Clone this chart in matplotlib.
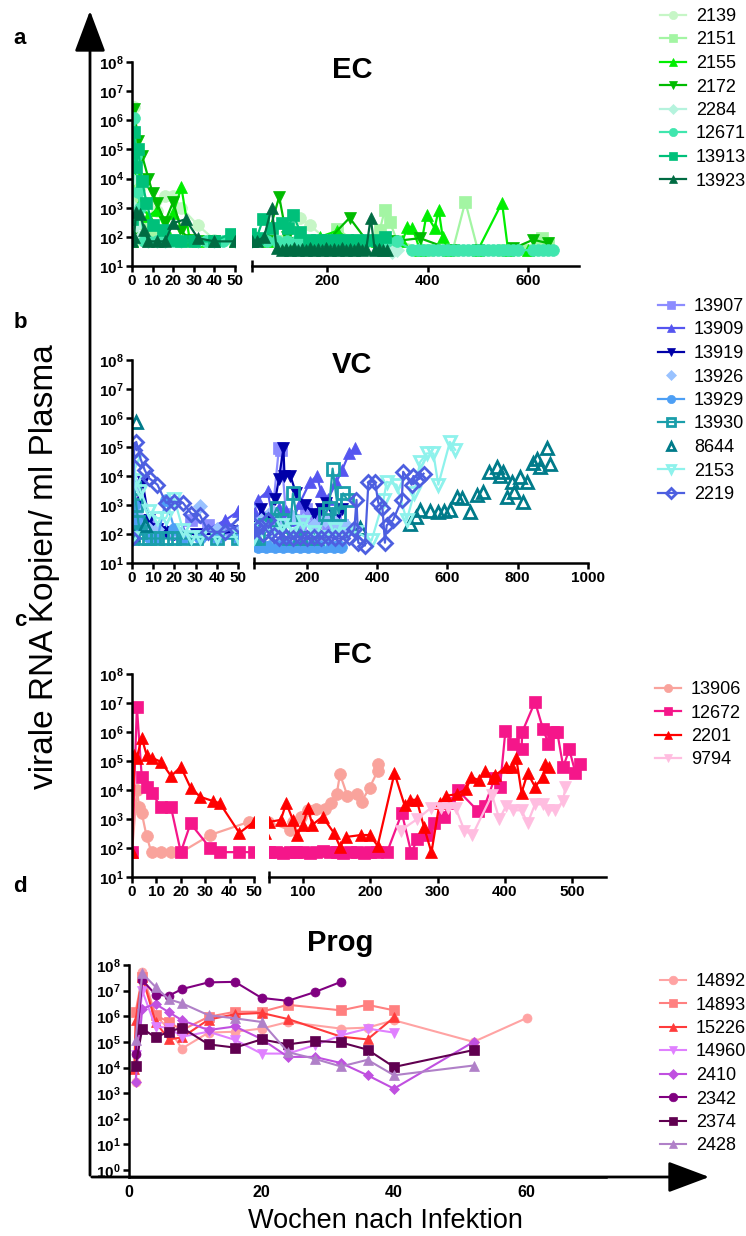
import matplotlib.pyplot as plt
from matplotlib.patches import FancyArrowPatch

plt.rcParams['font.family'] = ['Liberation Sans', 'DejaVu Sans']
plt.rcParams['mathtext.fontset'] = 'custom'
plt.rcParams['mathtext.rm'] = 'Liberation Sans:bold'
plt.rcParams['mathtext.bf'] = 'Liberation Sans:bold'

W, H = 746, 1236

# ---------------- EC ----------------
ec_labels = ['2139', '2151', '2155', '2172', '2284', '12671', '13913', '13923']
ec_2139_w = [0, 1, 2, 4, 8, 12, 16, 20, 24, 32, 40, 50, 80, 120, 147, 166, 200, 250, 300]
ec_2139_v = [100, 2.8e6, 1e5, 5e3, 1.5e3, 800, 2.5e3, 2.5e3, 1e3, 250, 80, 80, 80, 80, 450, 250, 80, 80, 80]
ec_2151_w = [0, 1, 2, 4, 8, 12, 16, 20, 24, 30, 40, 50, 100, 150, 200, 220, 250, 280, 305, 315, 325, 340,
             400, 450, 475, 500, 550, 600, 627, 640]
ec_2151_v = [70, 8e3, 2e3, 300, 150, 100, 90, 80, 70, 70, 70, 70, 70, 70, 80, 190, 80, 70, 170, 850, 320, 70,
             35, 35, 1600, 35, 35, 35, 95, 60]
ec_2155_w = [0, 1, 2, 4, 8, 12, 16, 20, 24, 28, 32, 40, 50, 80, 120, 160, 186, 220, 250, 300, 350, 360, 370,
             385, 398, 414, 422, 430, 440, 500, 548, 560, 600]
ec_2155_v = [70, 1e5, 2e4, 1.5e3, 500, 850, 200, 650, 5e3, 80, 70, 70, 70, 70, 70, 70, 100, 160, 70, 70, 70,
             220, 200, 35, 580, 200, 850, 100, 35, 35, 1500, 35, 35]
ec_2172_w = [0, 1, 3, 5, 8, 10, 12, 16, 20, 24, 28, 32, 40, 50, 80, 105, 120, 160, 200, 245, 280, 330, 385,
             450, 500, 570, 610, 640]
ec_2172_v = [100, 2.4e6, 2e5, 5.8e4, 1e4, 3.2e3, 1.5e3, 320, 1.6e3, 160, 80, 70, 70, 70, 70, 2400, 100, 70, 70,
             450, 70, 70, 90, 35, 35, 40, 80, 60]
ec_2284_w = [0, 1, 2, 4, 8, 12, 16, 24, 32, 40, 50, 100, 150, 200, 250, 300, 320, 330, 340]
ec_2284_v = [1e4, 1e3, 250, 100, 70, 70, 70, 70, 70, 70, 70, 70, 70, 70, 70, 70, 40, 30, 35]
ec_12671_w = [0, 1, 2, 3, 4, 6, 8, 12, 16, 20, 24, 30, 36, 44, 50, 60, 80, 100, 120, 140, 160, 180, 200, 220,
              240, 260, 280, 300, 320, 340, 370, 380, 390, 400, 410, 420, 430, 440, 450, 460, 470, 480, 490,
              500, 510, 520, 530, 540, 550, 560, 570, 580, 610, 620, 630, 640, 650]
ec_12671_v = [70, 1.2e6, 6e4, 3.5e3, 1e3, 70, 70, 70, 70, 70, 70, 70, 70, 70, 70, 70, 70, 70, 70, 70, 70, 70,
              70, 70, 70, 70, 70, 70, 70, 70, 35, 35, 35, 35, 35, 35, 35, 35, 35, 35, 35, 35, 35, 35, 35, 35,
              35, 35, 35, 35, 35, 35, 35, 35, 35, 35, 35]
ec_13913_w = [0, 1, 2, 3, 5, 7, 10, 15, 20, 24, 30, 40, 48, 60, 73, 90, 110, 122, 133, 147, 165, 180, 200,
              220, 240, 260, 280, 300, 315]
ec_13913_v = [400, 4e5, 2.5e4, 1e5, 8e3, 1.5e3, 250, 170, 80, 70, 70, 70, 130, 90, 400, 200, 300, 200, 550,
              150, 80, 80, 80, 80, 80, 80, 80, 80, 100]
ec_13923_w = [0, 1, 2, 4, 6, 8, 12, 16, 20, 26, 32, 40, 50, 60, 75, 90, 100, 110, 118, 126, 134, 142, 150,
              158, 166, 174, 182, 190, 198, 206, 214, 222, 230, 238, 246, 254, 262, 270, 278, 287, 295, 303,
              311, 320]
ec_13923_v = [70, 100, 700, 600, 170, 70, 70, 70, 300, 400, 90, 70, 70, 70, 100, 1000, 40, 35, 38, 35, 40,
              35, 38, 35, 40, 35, 38, 35, 40, 35, 38, 35, 40, 35, 38, 35, 40, 35, 38, 450, 35, 38, 35, 35]

# ---------------- VC ----------------
vc_labels = ['13907', '13909', '13919', '13926', '13929', '13930', '8644', '2153', '2219']
vc_13907_w = [0, 1, 2, 4, 8, 12, 16, 20, 28, 36, 44, 50, 60, 80, 100, 120, 126, 140, 160, 180, 197, 220,
              240, 260, 280, 300, 320]
vc_13907_v = [70, 5e3, 1e3, 300, 200, 150, 120, 100, 300, 200, 150, 100, 150, 400, 300, 9e4, 8e4, 500, 300,
              200, 700, 300, 500, 200, 300, 200, 150]
vc_13909_w = [0, 1, 2, 4, 8, 16, 24, 32, 44, 50, 60, 88, 100, 120, 140, 160, 180, 208, 228, 240, 260, 283,
              300, 320, 337]
vc_13909_v = [70, 1e3, 500, 300, 200, 150, 120, 100, 300, 600, 1.5e3, 3e3, 500, 800, 600, 300, 1.2e3, 6e3,
              1e4, 3e3, 1.6e3, 6e3, 1.6e4, 6e4, 9e4]
vc_13919_w = [0, 1, 2, 5, 8, 12, 16, 20, 30, 40, 50, 60, 70, 90, 110, 120, 133, 136, 153, 169, 195, 220,
              240, 254, 280, 300]
vc_13919_v = [70, 300, 1e3, 6e3, 300, 150, 120, 100, 100, 100, 130, 200, 700, 300, 1.6e3, 8e3, 9e4, 1e4,
              1e4, 2.5e3, 1e3, 500, 700, 1.2e3, 300, 700]
vc_13926_w = [0, 1, 2, 4, 8, 12, 20, 32, 40, 50, 70, 100, 130, 160, 190, 220, 250, 280, 310]
vc_13926_v = [100, 700, 500, 200, 150, 150, 120, 900, 150, 120, 300, 600, 200, 400, 300, 200, 300, 250, 200]
vc_13929_w = [0, 1, 2, 4, 8, 12, 16, 20, 24, 32, 40, 50, 60, 72, 84, 96, 108, 120, 132, 144, 156, 168, 180,
              192, 204, 216, 228, 240, 252, 264, 276, 288, 296]
vc_13929_v = [70, 1e3, 300, 150, 80, 70, 1.5e3, 150, 70, 70, 70, 70, 35, 38, 35, 40, 35, 38, 35, 40, 35, 38,
              35, 40, 35, 38, 35, 40, 35, 38, 35, 40, 35]
vc_13930_w = [0, 1, 2, 3, 4, 6, 8, 12, 16, 20, 24, 30, 40, 50, 60, 80, 100, 114, 130, 150, 160, 180, 200,
              230, 250, 263, 273, 290, 303, 315]
vc_13930_v = [70, 4e3, 1e3, 250, 120, 70, 70, 70, 70, 70, 70, 70, 70, 70, 70, 200, 300, 800, 300, 70, 2.5e3,
              70, 70, 70, 500, 800, 1.8e4, 500, 2.5e3, 1.5e3]
vc_8644_w = [0, 2, 6, 350, 493, 510, 522, 550, 574, 590, 607, 626, 641, 664, 683, 700, 717, 740, 750, 759,
             769, 783, 790, 807, 816, 826, 845, 854, 864, 883, 892]
vc_8644_v = [100, 7e5, 200, 160, 230, 400, 680, 630, 590, 630, 680, 1950, 1800, 590, 2200, 2800, 1.4e4,
             2.1e4, 1e4, 1.4e4, 1950, 6300, 2800, 9500, 1300, 6300, 2.75e4, 4e4, 2e4, 9.1e4, 2.5e4]
vc_2153_w = [0, 1, 2, 4, 8, 12, 16, 20, 24, 28, 32, 40, 50, 70, 100, 130, 160, 190, 220, 250, 280, 310, 340,
             384, 418, 427, 455, 484, 505, 522, 541, 560, 574, 607, 622]
vc_2153_v = [70, 3e4, 7e3, 3e3, 600, 350, 350, 1.6e3, 140, 80, 80, 80, 80, 150, 100, 200, 150, 250, 120, 80,
             150, 100, 120, 60, 1.5e3, 6300, 5000, 300, 2500, 3e4, 6e4, 6e4, 5000, 1.5e5, 8e4]
vc_2219_w = [0, 1, 2, 4, 6, 8, 12, 16, 20, 24, 28, 32, 36, 44, 50, 60, 75, 90, 105, 120, 140, 160, 180, 200,
             220, 240, 260, 280, 300, 320, 335, 341, 346, 365, 375, 394, 403, 415, 422, 427, 445, 470, 474,
             498, 503, 520, 532]
vc_2219_v = [70, 8e4, 1.5e5, 4e4, 1.6e4, 8.5e3, 5e3, 1.2e3, 1.3e3, 1.2e3, 500, 450, 120, 120, 200, 160, 100,
             300, 90, 70, 80, 70, 80, 70, 80, 70, 80, 70, 70, 80, 150, 1.5e3, 50, 40, 6300, 6300, 1200, 800,
             50, 200, 300, 1.5e3, 1.4e4, 5e3, 1e4, 8e3, 1.2e4]

# ---------------- FC ----------------
fc_labels = ['13906', '12672', '2201', '9794']
fc_13906_w = [0, 2, 3, 4, 6, 8, 12, 16, 20, 32, 48, 80, 85, 97, 107, 120, 132, 141, 150, 155, 166, 180, 187,
              199, 211, 212]
fc_13906_v = [70, 1e4, 2.5e3, 1.6e3, 250, 70, 70, 70, 70, 280, 800, 420, 800, 1.2e3, 2e3, 2.2e3, 2.2e3,
              3.5e3, 7e3, 3.5e4, 6.3e3, 7e3, 4e3, 1.2e4, 4.5e4, 8e4]
fc_12672_w = [0, 2, 4, 6, 8, 12, 16, 20, 24, 32, 36, 44, 50, 60, 70, 80, 90, 100, 110, 120, 130, 140, 150,
              160, 170, 180, 190, 200, 210, 225, 247, 261, 270, 285, 295, 310, 317, 330, 360, 370, 385, 393,
              401, 412, 425, 426, 445, 457, 465, 472, 478, 487, 496, 505, 512]
fc_12672_v = [70, 7.4e6, 2.8e4, 1.3e4, 8e3, 2.5e3, 2.5e3, 72, 700, 100, 72, 72, 72, 72, 68, 72, 70, 72, 68,
              72, 80, 70, 72, 68, 72, 70, 68, 72, 70, 72, 1.6e3, 68, 200, 280, 720, 1.2e3, 3.5e3, 1e4, 1.9e3,
              2.8e3, 2.5e4, 1.3e4, 1.1e6, 4e5, 2.5e5, 1e6, 1.1e7, 1.25e6, 4e5, 1e6, 1e6, 6.3e4, 2.5e5,
              4e4, 8e4]
fc_2201_w = [0, 1, 2, 4, 6, 8, 12, 16, 20, 24, 28, 33, 36, 44, 50, 67, 75, 85, 91, 100, 107, 114, 129, 146,
             155, 164, 186, 199, 211, 236, 251, 259, 269, 280, 291, 303, 313, 329, 343, 350, 361, 371, 382,
             386, 402, 411, 417, 425, 434, 445, 457, 460, 466]
fc_2201_v = [70, 1.6e5, 1.3e5, 6.3e5, 1.6e5, 1.3e5, 9.3e4, 3e4, 6.3e4, 1.2e4, 5.8e3, 4.2e3, 3.5e3, 330, 800,
             930, 3.5e3, 930, 280, 630, 2.4e3, 630, 1.2e3, 330, 110, 240, 280, 280, 120, 3.8e4, 3e3, 4.6e3,
             4.6e3, 520, 70, 3.5e3, 6.3e3, 7.2e3, 1.1e4, 2.8e4, 2.2e4, 4.6e4, 2.5e4, 3.2e4, 6.3e4, 6.3e4,
             1.3e5, 8e3, 3.8e4, 1.3e4, 2.8e4, 8e4, 6.3e4]
fc_9794_w = [245, 270, 290, 305, 315, 327, 340, 352, 381, 392, 402, 412, 425, 434, 445, 457, 465, 475, 487,
             490]
fc_9794_v = [400, 1e3, 2.4e3, 2.4e3, 2.4e3, 2.4e3, 400, 280, 6.8e3, 1e3, 2.8e3, 2e3, 2e3, 720, 3.2e3, 3.2e3,
             2e3, 2e3, 4.2e3, 1.3e4]

# ---------------- Prog ----------------
pr_labels = ['14892', '14893', '15226', '14960', '2410', '2342', '2374', '2428']
pr_14892_w = [1, 2, 4, 6, 8, 12, 16, 20, 24, 32, 36, 40, 52, 60]
pr_14892_v = [2.8e3, 5.5e7, 1.1e6, 3.2e5, 5.5e4, 2.3e5, 2.5e5, 3.3e5, 6e5, 3.3e5, 3.6e5, 7e5, 1e5, 8.5e5]
pr_14893_w = [1, 2, 4, 6, 8, 12, 16, 20, 24, 32, 36, 40]
pr_14893_v = [1.5e6, 3.5e7, 1.1e6, 6e5, 2.9e5, 9.5e5, 1.5e6, 1.5e6, 2.8e6, 1.7e6, 2.8e6, 1.7e6]
pr_15226_w = [0.8, 1, 2, 4, 6, 8, 12, 16, 20, 24, 32, 36, 40]
pr_15226_v = [9e3, 7e5, 3.5e7, 6e5, 1.25e5, 1.5e5, 7.4e5, 1.2e6, 1.35e6, 7.8e5, 1.6e5, 1.25e5, 9e5]
pr_14960_w = [1, 2, 4, 6, 8, 12, 16, 20, 24, 28, 32, 36, 40]
pr_14960_v = [3e4, 1e7, 3.9e5, 3.6e5, 1.6e5, 2.5e5, 1.2e5, 3.5e4, 3.5e4, 7.4e4, 1.8e5, 3.3e5, 2.3e5]
pr_2410_w = [1, 2, 4, 6, 8, 12, 16, 20, 24, 28, 32, 36, 40, 52]
pr_2410_v = [2.8e3, 2e6, 3e6, 1.45e6, 7e5, 2.9e5, 4e5, 1.3e5, 2.6e4, 2.6e4, 1.5e4, 5e3, 1.5e3, 1e5]
pr_2342_w = [1, 2, 4, 6, 8, 12, 16, 20, 24, 28, 32]
pr_2342_v = [3.5e4, 2.6e7, 7e6, 6.3e6, 1.15e7, 2.1e7, 2.2e7, 5.2e6, 4e6, 8.7e6, 2.2e7]
pr_2374_w = [1, 2, 4, 6, 8, 12, 16, 20, 24, 28, 32, 36, 40, 52]
pr_2374_v = [1.2e4, 3.3e5, 1.5e5, 2.5e5, 3.6e5, 8e4, 6e4, 1.25e5, 8e4, 1.1e5, 9.5e4, 5e4, 1.05e4, 4.8e4]
pr_2428_w = [1, 2, 4, 6, 8, 12, 16, 20, 24, 28, 32, 36, 40, 52]
pr_2428_v = [1.2e5, 4.7e7, 1.4e7, 4.6e6, 3.2e6, 1.1e6, 8.3e5, 6e5, 4e4, 2.2e4, 1.1e4, 2e4, 5e3, 1.2e4]

# styles: (color, marker, open marker, with line)
ec_styles = [('#c6f6c6', 'o', False, True), ('#a3f5a3', 's', False, True), ('#00ee00', '^', False, True),
             ('#00bb00', 'v', False, True), ('#b5f3dd', 'D', False, True), ('#40e6ae', 'o', False, True),
             ('#00c07a', 's', False, True), ('#006b42', '^', False, True)]
vc_styles = [('#8c8cff', 's', False, True), ('#5555f0', '^', False, True), ('#0000a8', 'v', False, True),
             ('#99c2ff', 'D', False, False), ('#4d9ff5', 'o', False, True), ('#1a9eaa', 's', True, True),
             ('#007b8a', '^', True, False), ('#8ef2ec', 'v', True, True), ('#4d5fe0', 'D', True, True)]
fc_styles = [('#f9a39c', 'o', False, True), ('#f5168a', 's', False, True), ('#ff0000', '^', False, True),
             ('#ffbde0', 'v', False, True)]
pr_styles = [('#ffa3a3', 'o', False, True), ('#ff8080', 's', False, True), ('#ff3b3b', '^', False, True),
             ('#e080ff', 'v', False, True), ('#c050e0', 'D', False, True), ('#800080', 'o', False, True),
             ('#600050', 's', False, True), ('#b080c8', '^', False, True)]

fig = plt.figure(figsize=(W / 100, H / 100), dpi=100)


def px_axes(x0, y0, x1, y1):
    return fig.add_axes([x0 / W, 1 - y1 / H, (x1 - x0) / W, (y1 - y0) / H])


def plot_series(ax, data, labels, styles, ms, lw):
    for (wk, vl), lab, (col, mk, hollow, line) in zip(data, labels, styles):
        ms_i = ms * 0.8 if mk == 'D' else ms
        ax.plot(wk, vl, color=col, marker=mk, ms=ms_i, lw=lw,
                ls='-' if line else 'none',
                mfc='none' if hollow else col, mec=col, mew=2 if hollow else 0.5, label=lab)


def style_axes(ax, left=True):
    for s in ['top', 'right']:
        ax.spines[s].set_visible(False)
    ax.spines['bottom'].set_linewidth(1.8)
    ax.spines['left'].set_linewidth(1.8)
    if not left:
        ax.spines['left'].set_visible(False)
        ax.tick_params(axis='y', left=False, labelleft=False)
    ax.tick_params(axis='both', which='major', direction='out', length=4, width=1.8, pad=2)
    ax.tick_params(axis='both', which='minor', length=0)
    for lab in ax.get_xticklabels():
        lab.set_fontweight('bold')
    ax.patch.set_alpha(0)


def add_legend(ax, xy, scale):
    ax.legend(loc='upper left', bbox_to_anchor=(xy[0] / W, 1 - xy[1] / H),
              bbox_transform=fig.transFigure, frameon=False, fontsize=13, handlelength=1.45,
              handletextpad=0.55, labelspacing=0.36, borderpad=0, borderaxespad=0, markerscale=scale)


def broken_panel(top, bottom, x_left, x_break_end, x_right0, x_right1, right_max,
                 right_ticks, data, labels, styles, title, title_xy, leg_xy):
    ax1 = px_axes(x_left, top, x_break_end, bottom)
    ax2 = px_axes(x_right0, top, x_right1, bottom)
    for ax in (ax1, ax2):
        plot_series(ax, data, labels, styles, ms=8.5, lw=1.6)
        ax.set_yscale('log')
        ax.set_ylim(10, 1e8)
    ax1.set_yticks([10 ** k for k in range(1, 9)])
    ax1.set_yticklabels([r'$\mathbf{10^{%d}}$' % k for k in range(1, 9)], fontsize=11)
    ax1.set_xlim(0, 50)
    ax1.set_xticks([0, 10, 20, 30, 40, 50])
    ax1.set_xticklabels(['0', '10', '20', '30', '40', '50'], fontsize=11)
    ax2.set_xlim(50, right_max)
    ax2.set_xticks(right_ticks)
    ax2.set_xticklabels([str(t) for t in right_ticks], fontsize=11)
    ax1.minorticks_off()
    ax2.minorticks_off()
    style_axes(ax1, True)
    style_axes(ax2, False)
    ax1.set_xticks([50], minor=True)
    ax2.set_xticks([50], minor=True)
    for ax in (ax1, ax2):
        ax.tick_params(axis='x', which='minor', direction='inout', length=9, width=1.8)
    fig.text(title_xy[0] / W, 1 - title_xy[1] / H, title, fontsize=21, fontweight='bold',
             ha='center', va='center')
    add_legend(ax2, leg_xy, 0.7)
    return ax1, ax2


ec_data = [(ec_2139_w, ec_2139_v), (ec_2151_w, ec_2151_v), (ec_2155_w, ec_2155_v), (ec_2172_w, ec_2172_v),
           (ec_2284_w, ec_2284_v), (ec_12671_w, ec_12671_v), (ec_13913_w, ec_13913_v),
           (ec_13923_w, ec_13923_v)]
vc_data = [(vc_13907_w, vc_13907_v), (vc_13909_w, vc_13909_v), (vc_13919_w, vc_13919_v),
           (vc_13926_w, vc_13926_v), (vc_13929_w, vc_13929_v), (vc_13930_w, vc_13930_v),
           (vc_8644_w, vc_8644_v), (vc_2153_w, vc_2153_v), (vc_2219_w, vc_2219_v)]
fc_data = [(fc_13906_w, fc_13906_v), (fc_12672_w, fc_12672_v), (fc_2201_w, fc_2201_v),
           (fc_9794_w, fc_9794_v)]
pr_data = [(pr_14892_w, pr_14892_v), (pr_14893_w, pr_14893_v), (pr_15226_w, pr_15226_v),
           (pr_14960_w, pr_14960_v), (pr_2410_w, pr_2410_v), (pr_2342_w, pr_2342_v),
           (pr_2374_w, pr_2374_v), (pr_2428_w, pr_2428_v)]

broken_panel(62, 266, 132, 235, 251.5, 578.5, 700, [200, 400, 600],
             ec_data, ec_labels, ec_styles, 'EC', (352, 70), (660, 8))
broken_panel(360, 563, 132, 238, 254.3, 587.9, 1000, [200, 400, 600, 800, 1000],
             vc_data, vc_labels, vc_styles, 'VC', (352, 365), (658, 298))
broken_panel(674, 877, 132, 254, 269.4, 605.6, 550, [100, 200, 300, 400, 500],
             fc_data, fc_labels, fc_styles, 'FC', (352, 655), (655, 681))

# Prog panel
axd = px_axes(129, 965, 606, 1177)
plot_series(axd, pr_data, pr_labels, pr_styles, ms=6.5, lw=1.5)
axd.set_yscale('log')
axd.set_ylim(10 ** -0.27, 1e8)
axd.set_yticks([10 ** k for k in range(0, 9)])
axd.set_yticklabels([r'$\mathbf{10^{%d}}$' % k for k in range(0, 9)], fontsize=11)
axd.set_xlim(0, 72)
axd.set_xticks([0, 20, 40, 60])
axd.set_xticklabels(['0', '20', '40', '60'], fontsize=11.5)
axd.minorticks_off()
style_axes(axd, True)
axd.tick_params(axis='x', length=0, pad=6)
fig.text(340 / W, 1 - 943 / H, 'Prog', fontsize=21, fontweight='bold', ha='center', va='center')
add_legend(axd, (660, 973), 0.95)

# panel letters
for letter, y in zip(['a', 'b', 'c', 'd'], [38, 323, 620, 886]):
    fig.text(20 / W, 1 - y / H, letter, fontsize=16, fontweight='bold', ha='center', va='center')

# big axis arrows
arrow_v = FancyArrowPatch((90 / W, 1 - 1178 / H), (90 / W, 1 - 8 / H), transform=fig.transFigure,
                          arrowstyle='-|>,head_length=1.6,head_width=0.6', mutation_scale=16,
                          lw=2, color='black')
arrow_h = FancyArrowPatch((89 / W, 1 - 1177 / H), (712 / W, 1 - 1177 / H), transform=fig.transFigure,
                          arrowstyle='-|>,head_length=1.6,head_width=0.6', mutation_scale=16,
                          lw=2, color='black')
fig.add_artist(arrow_v)
fig.add_artist(arrow_h)

fig.text(45 / W, 1 - 567 / H, 'virale RNA Kopien/ ml Plasma', fontsize=24, rotation=90,
         ha='center', va='center')
fig.text(385 / W, 1 - 1221 / H, 'Wochen nach Infektion', fontsize=19.5, ha='center', va='center')

fig.savefig('out.png', dpi=100)
